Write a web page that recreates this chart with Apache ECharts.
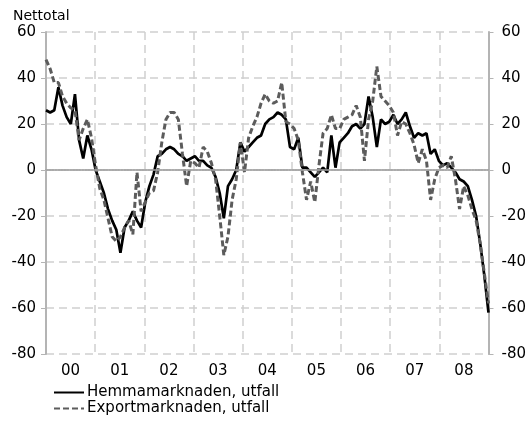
<!DOCTYPE html>
<html>
<head>
<meta charset="utf-8">
<script src="https://cdn.jsdelivr.net/npm/echarts@6/dist/echarts.min.js"></script>
<style>
  html, body { margin: 0; padding: 0; background: #fff; }
  #chart { width: 529px; height: 421px; }
</style>
</head>
<body>
<div id="chart"></div>
<script>
// year labels shown on the x axis
const years = ['00', '01', '02', '03', '04', '05', '06', '07', '08']

// monthly outcome, net balance, Jan 2000 - Dec 2008
const hemma = [
  26, 25, 26, 36, 28, 23, 20, 33, 13, 5, 15, 9,
  0, -5, -10, -17, -22, -26, -36, -25, -22, -18, -22, -25,
  -14, -7, -2, 6, 7, 9, 10, 9, 7, 6, 4, 5,
  6, 4, 4, 2, 1, -3, -10, -21, -7, -4, 0, 12,
  8, 10, 12, 14, 15, 20, 22, 23, 25, 24, 22, 10,
  9, 14, 1, 1, -1, -3, -1, 1, -1, 15, 1, 12,
  14, 16, 19, 20, 18, 20, 32, 23, 10, 22, 20, 21,
  24, 20, 22, 25, 19, 14, 16, 15, 16, 7, 9, 4,
  2, 3, 1, -1, -4, -5, -7, -13, -20, -32, -46, -62
]

const exportm = [
  48, 44, 38, 38, 32, 29, 27, 26, 13, 18, 22, 14,
  2, -8, -13, -21, -29, -31, -29, -25, -22, -28, -1, -18,
  -14, -10, -9, -1, 12, 22, 25, 25, 22, 7, -7, 4,
  3, 1, 10, 8, 3, -4, -20, -37, -29, -13, -4, 12,
  -1, 14, 19, 23, 29, 33, 30, 29, 30, 38, 21, 20,
  18, 13, -1, -13, -5, -14, 2, 16, 18, 24, 18, 18,
  22, 23, 24, 28, 23, 4, 22, 30, 45, 32, 30, 28,
  25, 15, 21, 20, 16, 11, 3, 9, 4, -13, -4, 1,
  2, 1, 6, -4, -17, -7, -11, -17, -22, -32, -45, -58
]

const seriesNames = ['Hemmamarknaden, utfall', 'Exportmarknaden, utfall']

// month keys for the data axis
const months = []
for (let y = 2000; y <= 2008; y++) {
  for (let m = 1; m <= 12; m++) {
    months.push(y + '-' + (m < 10 ? '0' + m : m))
  }
}

const font = 'DejaVu Sans'
const gridDash = { color: '#cfcfcf', width: 1.5, type: [8, 5] }

const chart = echarts.init(document.getElementById('chart'), null, { renderer: 'canvas' })

const yAxisBase = {
  type: 'value',
  min: -80,
  max: 60,
  interval: 20,
  axisLine: { show: true, lineStyle: { color: '#b4b4b4', width: 2 } },
  axisTick: { show: true, length: 5, lineStyle: { color: '#b4b4b4', width: 1 } },
  axisLabel: { color: '#000', fontFamily: font, fontSize: 15 }
}

// one legend box per series so they stack
function legendRow(name, top) {
  return {
    left: 48,
    top: top,
    itemWidth: 30,
    itemHeight: 12,
    itemGap: 0,
    itemStyle: { opacity: 0 },
    textStyle: { fontFamily: font, fontSize: 15, color: '#000', padding: [0, 0, 0, -2] },
    data: [name]
  }
}

chart.setOption({
  animation: false,
  title: {
    text: 'Nettotal',
    left: 8,
    top: 4,
    textStyle: { fontFamily: font, fontSize: 14, fontWeight: 'normal', color: '#000' }
  },
  grid: { left: 46, right: 40, top: 32, bottom: 67, containLabel: false },
  legend: [legendRow(seriesNames[0], 380), legendRow(seriesNames[1], 396)],
  xAxis: [
    {
      type: 'category',
      data: years,
      boundaryGap: true,
      axisLine: { show: true, lineStyle: { color: '#9a9a9a', width: 1.5, type: 'dotted' } },
      axisTick: { show: false },
      axisLabel: { color: '#000', fontFamily: font, fontSize: 15, margin: 10 },
      splitLine: { show: true, lineStyle: gridDash }
    },
    {
      type: 'category',
      data: months,
      boundaryGap: false,
      show: false
    }
  ],
  yAxis: [
    Object.assign({}, yAxisBase, {
      position: 'left',
      axisLabel: Object.assign({}, yAxisBase.axisLabel, { margin: 10 }),
      splitLine: { show: true, lineStyle: gridDash }
    }),
    Object.assign({}, yAxisBase, {
      position: 'right',
      axisLabel: Object.assign({}, yAxisBase.axisLabel, { margin: 13 }),
      splitLine: { show: false }
    })
  ],
  series: [
    {
      name: seriesNames[0],
      type: 'line',
      xAxisIndex: 1,
      yAxisIndex: 0,
      data: hemma,
      symbol: 'none',
      showSymbol: false,
      lineStyle: { color: '#000', width: 2.7 },
      itemStyle: { color: '#000' },
      z: 3,
      markLine: {
        silent: true,
        symbol: 'none',
        label: { show: false },
        lineStyle: { color: '#a8a8a8', width: 1.5, type: 'solid' },
        data: [{ yAxis: 0 }]
      }
    },
    {
      name: seriesNames[1],
      type: 'line',
      xAxisIndex: 1,
      yAxisIndex: 0,
      data: exportm,
      symbol: 'none',
      showSymbol: false,
      lineStyle: { color: '#5c5c5c', width: 3, type: [6, 3] },
      itemStyle: { color: '#5c5c5c' },
      z: 4
    }
  ]
})
</script>
</body>
</html>
